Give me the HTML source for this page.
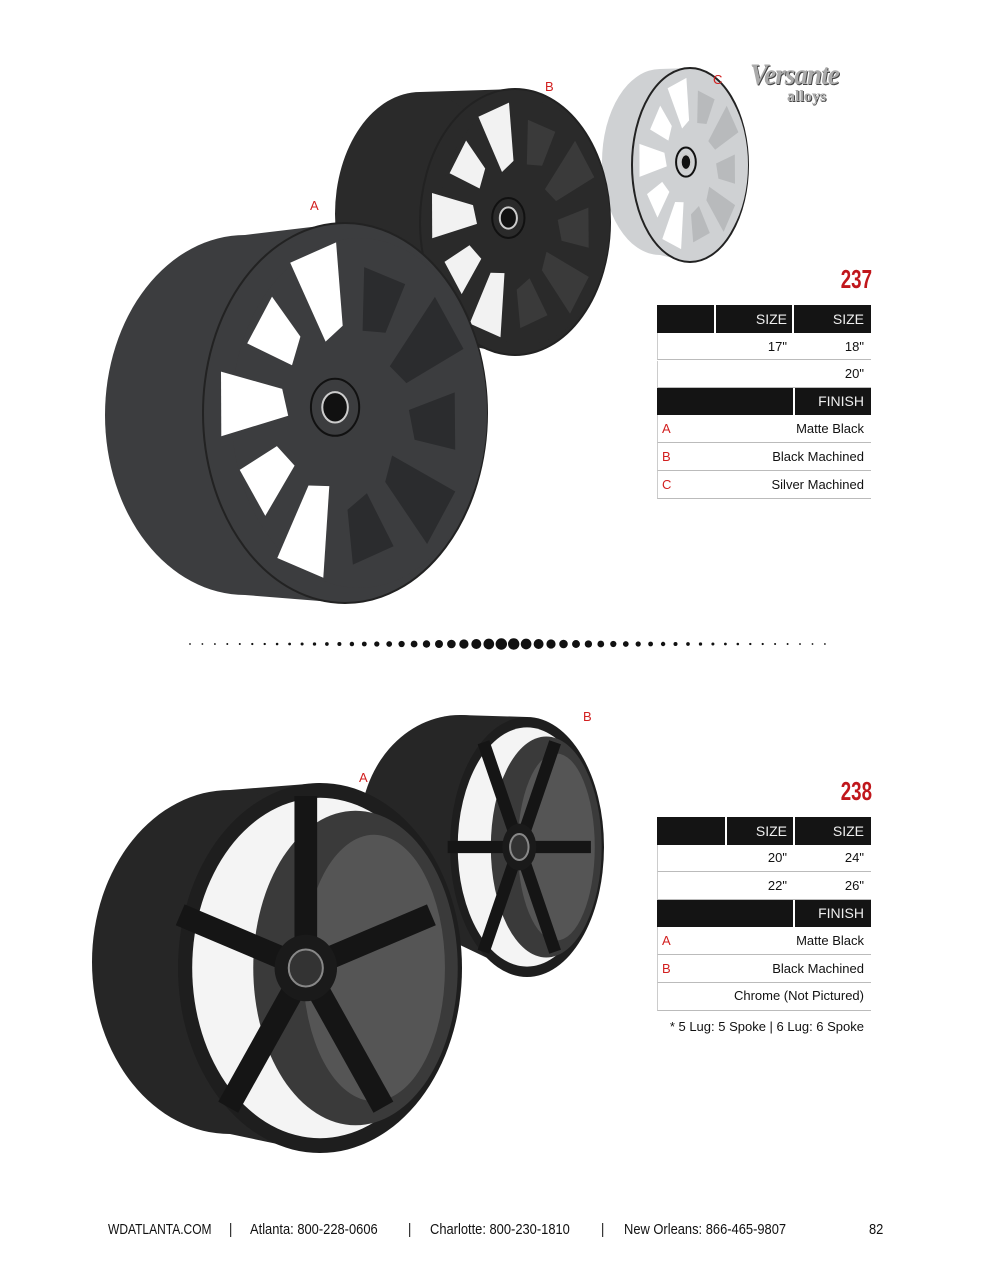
<!DOCTYPE html>
<html><head><meta charset="utf-8"><style>
body{margin:0;background:#fff;}
#pg{position:relative;width:1000px;height:1286px;overflow:hidden;background:#fff;font-family:"Liberation Sans Narrow","Liberation Sans",sans-serif;}
.t{position:absolute;font-size:13px;color:#111;}
.b{position:absolute;background:#141414;}
.cell{position:absolute;height:27px;border-bottom:1px solid #bbb;box-sizing:border-box;}
.r{position:absolute;font-size:13px;color:#111;text-align:right;}
.h{position:absolute;font-size:14px;color:#eee;text-align:right;}
.red{color:#d21f1f;}
.num{position:absolute;font-family:"Liberation Sans",sans-serif;font-weight:bold;color:#c0171c;font-size:26px;transform:scaleX(0.72);transform-origin:right top;text-align:right;width:60px;}
.f{position:absolute;top:1221px;font-size:15px;color:#111;transform:scaleX(0.86);transform-origin:left top;white-space:nowrap;}
</style></head><body><div id="pg">
<svg id="s" width="1000" height="1286" style="position:absolute;left:0;top:0"></svg>

<div class="t red" style="left:310px;top:198px;font-size:13px">A</div>
<div class="t red" style="left:545px;top:79px;font-size:13px">B</div>
<div class="t red" style="left:713px;top:72px;font-size:13px">C</div>
<div class="t red" style="left:359px;top:770px;font-size:13px">A</div>
<div class="t red" style="left:583px;top:709px;font-size:13px">B</div>

<div style="position:absolute;left:750px;top:58px;font-family:'Liberation Serif',serif;font-weight:bold;font-style:italic;font-size:30px;color:#aaa;text-shadow:1px 1px 0 #444;letter-spacing:-1px;transform:scaleX(0.9);transform-origin:left top">Versante</div>
<div style="position:absolute;left:787px;top:88px;font-family:'Liberation Serif',serif;font-weight:bold;font-size:16px;color:#aaa;text-shadow:1px 1px 0 #444">alloys</div>

<div class="num" style="left:812px;top:264px">237</div>
<div class="b" style="left:657px;top:305px;width:57px;height:28px"></div>
<div class="b" style="left:716px;top:305px;width:76px;height:28px"></div>
<div class="b" style="left:794px;top:305px;width:77px;height:28px"></div>
<div class="h" style="left:716px;top:311px;width:71px">SIZE</div>
<div class="h" style="left:794px;top:311px;width:70px">SIZE</div>
<div class="cell" style="left:657px;top:333px;width:214px;border-left:1px solid #ccc"></div>
<div class="r" style="left:716px;top:339px;width:71px">17"</div>
<div class="r" style="left:794px;top:339px;width:70px">18"</div>
<div class="cell" style="left:657px;top:361px;width:214px;border-left:1px solid #ccc"></div>
<div class="r" style="left:794px;top:366px;width:70px">20"</div>
<div class="b" style="left:657px;top:388px;width:136px;height:27px"></div>
<div class="b" style="left:795px;top:388px;width:76px;height:27px"></div>
<div class="h" style="left:795px;top:393px;width:69px">FINISH</div>
<div class="cell" style="left:657px;top:415px;width:214px;height:28px;border-left:1px solid #ccc"></div>
<div class="t red" style="left:662px;top:421px">A</div><div class="r" style="left:700px;top:421px;width:164px">Matte Black</div>
<div class="cell" style="left:657px;top:443px;width:214px;height:28px;border-left:1px solid #ccc"></div>
<div class="t red" style="left:662px;top:449px">B</div><div class="r" style="left:700px;top:449px;width:164px">Black Machined</div>
<div class="cell" style="left:657px;top:471px;width:214px;height:28px;border-left:1px solid #ccc"></div>
<div class="t red" style="left:662px;top:477px">C</div><div class="r" style="left:700px;top:477px;width:164px">Silver Machined</div>

<div class="num" style="left:812px;top:776px">238</div>
<div class="b" style="left:657px;top:817px;width:68px;height:28px"></div>
<div class="b" style="left:727px;top:817px;width:66px;height:28px"></div>
<div class="b" style="left:795px;top:817px;width:76px;height:28px"></div>
<div class="h" style="left:727px;top:823px;width:60px">SIZE</div>
<div class="h" style="left:795px;top:823px;width:69px">SIZE</div>
<div class="cell" style="left:657px;top:845px;width:214px;border-left:1px solid #ccc"></div>
<div class="r" style="left:727px;top:850px;width:60px">20"</div>
<div class="r" style="left:795px;top:850px;width:69px">24"</div>
<div class="cell" style="left:657px;top:872px;width:214px;height:28px;border-left:1px solid #ccc"></div>
<div class="r" style="left:727px;top:878px;width:60px">22"</div>
<div class="r" style="left:795px;top:878px;width:69px">26"</div>
<div class="b" style="left:657px;top:900px;width:136px;height:27px"></div>
<div class="b" style="left:795px;top:900px;width:76px;height:27px"></div>
<div class="h" style="left:795px;top:905px;width:69px">FINISH</div>
<div class="cell" style="left:657px;top:927px;width:214px;height:28px;border-left:1px solid #ccc"></div>
<div class="t red" style="left:662px;top:933px">A</div><div class="r" style="left:700px;top:933px;width:164px">Matte Black</div>
<div class="cell" style="left:657px;top:955px;width:214px;height:28px;border-left:1px solid #ccc"></div>
<div class="t red" style="left:662px;top:961px">B</div><div class="r" style="left:700px;top:961px;width:164px">Black Machined</div>
<div class="cell" style="left:657px;top:983px;width:214px;height:28px;border-left:1px solid #ccc"></div>
<div class="r" style="left:680px;top:988px;width:184px">Chrome (Not Pictured)</div>
<div class="r" style="left:640px;top:1019px;width:224px">* 5 Lug: 5 Spoke | 6 Lug: 6 Spoke</div>

<div class="f" style="left:108px;transform:scaleX(0.8)">WDATLANTA.COM</div>
<div class="f" style="left:229px">|</div>
<div class="f" style="left:250px">Atlanta: 800-228-0606</div>
<div class="f" style="left:408px">|</div>
<div class="f" style="left:430px">Charlotte: 800-230-1810</div>
<div class="f" style="left:601px">|</div>
<div class="f" style="left:624px">New Orleans: 866-465-9807</div>
<div class="f" style="left:869px">82</div>

<script>
var s=document.getElementById('s'),h='';
function E(cx,cy,rx,ry,f,st){h+='<ellipse cx="'+cx+'" cy="'+cy+'" rx="'+rx+'" ry="'+ry+'" fill="'+f+'"'+(st?' stroke="'+st+'" stroke-width="2"':'')+'/>';}
function P(pts,f){h+='<polygon points="'+pts.map(function(p){return p[0].toFixed(1)+','+p[1].toFixed(1)}).join(' ')+'" fill="'+f+'"/>';}
function M(cx,cy,rx,ry,r,a){a=a*Math.PI/180;return [cx+rx*r*Math.cos(a),cy+ry*r*Math.sin(a)];}
for(var i=0;i<=51;i++){var x=190+i*12.45,d=1-Math.abs(x-507)/318;var r=0.9+5*d*d;h+='<circle cx="'+x.toFixed(1)+'" cy="644" r="'+r.toFixed(2)+'" fill="#111"/>';}
function mesh(bx,by,brx,bry,cx,cy,rx,ry,face,win,barrel){
 P([[bx,by-bry],[cx,cy-ry],[cx,cy+ry],[bx,by+bry]],face);
 E(bx,by,brx,bry,face);E(cx,cy,rx,ry,face,'#222');
 E(cx+rx*0.1,cy,rx*0.9,ry*0.92,face);
 for(var k=0;k<10;k++){var a0=k*36-80,a1=a0+24;
  var ff=Math.cos((a0+12)*Math.PI/180)>0.2?barrel:win;
  var r0=(k%2)?0.4:0.45,r1=(k%2)?0.88:0.78;
  P([M(cx,cy,rx,ry,r0,a0+6),M(cx,cy,rx,ry,r1,a0),M(cx,cy,rx,ry,r1+0.02,a1-2),M(cx,cy,rx,ry,r0+0.06,a1)],ff);}
 E(cx-rx*0.07,cy-ry*0.03,rx*0.17,ry*0.15,face,'#111');
 E(cx-rx*0.07,cy-ry*0.03,rx*0.09,ry*0.08,'#111','#ccc');
}
mesh(660,162,58,93,690,165,58,97,'#cfd1d3','#fff','#b8babc');
mesh(420,214,85,122,515,222,95,133,'#2a2a2a','#f2f2f2','#3a3a3a');
mesh(245,415,140,180,345,413,142,190,'#3c3d3f','#fff','#2b2c2e');
function spoke(bx,by,brx,bry,cx,cy,rx,ry,n,a0){
 P([[bx,by-bry],[cx,cy-ry],[cx,cy+ry],[bx,by+bry]],'#262626');
 E(bx,by,brx,bry,'#262626');E(cx,cy,rx,ry,'#1e1e1e');
 E(cx,cy,rx*0.9,ry*0.92,'#f4f4f4');
 E(cx+rx*0.25,cy,rx*0.72,ry*0.85,'#3a3a3a');
 E(cx+rx*0.38,cy,rx*0.5,ry*0.72,'#555');
 var hx=cx-rx*0.1;
 for(var k=0;k<n;k++){var a=a0+k*360/n;var p=M(hx,cy,rx,ry,0.93,a);
  h+='<line x1="'+hx+'" y1="'+cy+'" x2="'+p[0].toFixed(1)+'" y2="'+p[1].toFixed(1)+'" stroke="#151515" stroke-width="'+(rx*0.16).toFixed(1)+'"/>';}
 E(hx,cy,rx*0.22,ry*0.18,'#1a1a1a');E(hx,cy,rx*0.12,ry*0.1,'#333','#888');
}
spoke(460,830,100,115,527,847,77,130,6,-60);
spoke(230,962,138,172,320,968,142,185,5,-90);
s.innerHTML=h;
</script>
</div></body></html>
